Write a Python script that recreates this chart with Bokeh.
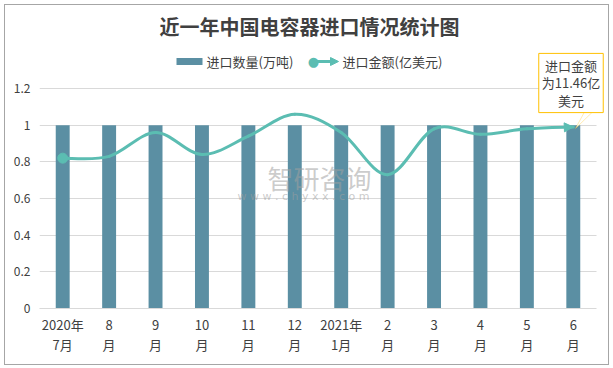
from bokeh.plotting import figure
from bokeh.models import Range1d, FixedTicker, Label, Arrow, NormalHead, PolyAnnotation, ColumnDataSource
from bokeh.embed import file_html
from bokeh.resources import INLINE

# ---------------- data ----------------
months = ["2020年\n7月", "8\n月", "9\n月", "10\n月", "11\n月", "12\n月",
          "2021年\n1月", "2\n月", "3\n月", "4\n月", "5\n月", "6\n月"]
quantity = [1, 1, 1, 1, 1, 1, 1, 1, 1, 1, 1, 1]              # 进口数量(万吨)
amount = [0.82, 0.83, 0.96, 0.84, 0.94, 1.06, 0.96, 0.73, 0.98, 0.95, 0.98, 0.99]  # 进口金额(亿美元)
y_ticks = [0, 0.2, 0.4, 0.6, 0.8, 1.0, 1.2]
y_tick_labels = ["0", "0.2", "0.4", "0.6", "0.8", "1", "1.2"]
title_text = "近一年中国电容器进口情况统计图"
legend_bar = "进口数量(万吨)"
legend_line = "进口金额(亿美元)"
callout_text = "进口金额\n为11.46亿\n美元"

# ---------------- style ----------------
BAR = "#5b8fa3"
LINE = "#5bbdb2"
GRID = "#d9d9d9"
TXT = "#404040"
GOLD = "#ffc000"
FONT = "Noto Sans CJK SC"

OFF = 5                       # canvas origin in page pixels (4px margin + 1px border)
X0, X1 = 39, 596              # category plot area in page pixels
XR = 608                      # frame right edge (page pixels), room for the callout
YTOP, Y0, Y12 = 5, 308, 88    # frame top, value 0, value 1.2 (page pixels)
W, H = 603, 359
FL = X0 - OFF
FT = YTOP - OFF
FW = XR - X0
FR = W - FL - FW
FH = Y0 - YTOP
FB = H - FT - FH
NCAT = len(months)
XMAX = NCAT * (XR - X0) / (X1 - X0)
YMAX = 1.2 * (Y0 - YTOP) / (Y0 - Y12)

def px(X):  # page pixel x -> data x
    return (X - X0) / (X1 - X0) * NCAT

def py(Y):  # page pixel y -> data y
    return (Y0 - Y) / (Y0 - Y12) * 1.2

p = figure(width=W, height=H, frame_width=FW, frame_height=FH,
           x_range=Range1d(0, XMAX), y_range=Range1d(0, YMAX),
           output_backend="svg", toolbar_location=None,
           min_border_left=FL, min_border_right=FR, min_border_top=FT, min_border_bottom=FB)
p.outline_line_color = None
p.background_fill_color = "white"
p.border_fill_color = "white"
p.styles = {"border": "1px solid #a6a6a6", "margin": "4px 0 0 4px"}

xs = [i + 0.5 for i in range(NCAT)]

# axes
p.xaxis.ticker = FixedTicker(ticks=xs)
p.xaxis.major_label_overrides = {x: m for x, m in zip(xs, months)}
p.xaxis.bounds = (0, NCAT)
p.xaxis.axis_line_color = GRID
p.xaxis.major_tick_line_color = None
p.xaxis.minor_tick_line_color = None
p.xaxis.major_tick_out = 0
p.xaxis.major_tick_in = 0
p.xaxis.major_label_text_font = FONT
p.xaxis.major_label_text_font_size = "13px"
p.xaxis.major_label_text_color = TXT
p.xaxis.major_label_text_line_height = 1.06
p.xaxis.major_label_standoff = 6

p.yaxis.ticker = FixedTicker(ticks=y_ticks)
p.yaxis.major_label_overrides = {t: l for t, l in zip(y_ticks, y_tick_labels)}
p.yaxis.axis_line_color = None
p.yaxis.major_tick_line_color = None
p.yaxis.minor_tick_line_color = None
p.yaxis.major_tick_out = 0
p.yaxis.major_tick_in = 0
p.yaxis.major_label_text_font = FONT
p.yaxis.major_label_text_font_size = "12px"
p.yaxis.major_label_text_color = TXT
p.yaxis.major_label_standoff = 9

p.xgrid.visible = False
p.ygrid.ticker = FixedTicker(ticks=y_ticks[1:])
p.ygrid.grid_line_color = GRID
p.ygrid.cross_bounds = (0, NCAT)

# bars
p.vbar(x=xs, top=quantity, width=0.3, fill_color=BAR, line_color=None)

# smooth line (Catmull-Rom -> cubic Bezier through the data points)
n = len(xs)
seg = dict(x0=[], y0=[], x1=[], y1=[], cx0=[], cy0=[], cx1=[], cy1=[])
for i in range(n - 1):
    pm = i - 1 if i > 0 else i
    pp = i + 2 if i + 2 < n else i + 1
    seg["x0"].append(xs[i]); seg["y0"].append(amount[i])
    seg["x1"].append(xs[i + 1]); seg["y1"].append(amount[i + 1])
    seg["cx0"].append(xs[i] + (xs[i + 1] - xs[pm]) / 6.0)
    seg["cy0"].append(amount[i] + (amount[i + 1] - amount[pm]) / 6.0)
    seg["cx1"].append(xs[i + 1] - (xs[pp] - xs[i]) / 6.0)
    seg["cy1"].append(amount[i + 1] - (amount[pp] - amount[i]) / 6.0)
src = ColumnDataSource(seg)
p.bezier(x0="x0", y0="y0", x1="x1", y1="y1", cx0="cx0", cy0="cy0", cx1="cx1", cy1="cy1",
         source=src, line_color=LINE, line_width=3, line_cap="round")
p.scatter(x=[xs[0]], y=[amount[0]], size=10, fill_color=LINE, line_color=LINE)
p.add_layout(Arrow(end=NormalHead(size=9, fill_color=LINE, line_color=LINE),
                   x_start=seg["cx1"][-1], y_start=seg["cy1"][-1], x_end=xs[-1], y_end=amount[-1],
                   line_color=LINE, line_width=3))

# watermark
p.add_layout(Label(x=px(267), y=py(177), text="智研咨询", text_font=FONT, text_font_size="26px",
                   text_color="#a0a0a0", text_alpha=0.55, text_baseline="middle"))
p.add_layout(Label(x=px(237), y=py(196), text="w w w . c h y x x . c o m", text_font="DejaVu Sans",
                   text_font_size="11px", text_color="#a0a0a0", text_alpha=0.55, text_baseline="middle"))

# title
p.add_layout(Label(x=px(309), y=py(26), text=title_text, text_font=FONT, text_font_size="20px",
                   text_font_style="bold", text_color=TXT, text_align="center", text_baseline="middle"))

# legend
p.add_layout(Arrow(end=None, x_start=px(176), x_end=px(202), y_start=py(61), y_end=py(61),
                   line_color=BAR, line_width=7, line_cap="butt"))
p.add_layout(Label(x=px(206), y=py(61), text=legend_bar, text_font=FONT, text_font_size="13px",
                   text_color=TXT, text_baseline="middle"))
p.add_layout(Arrow(end=NormalHead(size=8, fill_color=LINE, line_color=LINE),
                   x_start=px(313), x_end=px(338), y_start=py(61), y_end=py(61),
                   line_color=LINE, line_width=3))
p.add_layout(Label(x=px(313), y=py(61), text="●", text_font="DejaVu Sans", text_font_size="13px",
                   text_color=LINE, text_align="center", text_baseline="middle"))
p.add_layout(Label(x=px(342), y=py(61), text=legend_line, text_font=FONT, text_font_size="13px",
                   text_color=TXT, text_baseline="middle"))

# callout
p.add_layout(PolyAnnotation(xs=[px(585), px(594), px(575)], ys=[py(109.5), py(109.5), py(128)],
                            fill_color="white", fill_alpha=1, line_color=GOLD, line_width=1))
p.add_layout(Label(x=px(570.5), y=py(82.5), text=callout_text, text_font=FONT, text_font_size="13px",
                   text_color=TXT, text_align="center", text_baseline="middle",
                   text_line_height=0.9, background_fill_color="white",
                   border_line_color=GOLD, border_line_width=1, padding=3))

open("out.html", "w").write(file_html(p, INLINE))
